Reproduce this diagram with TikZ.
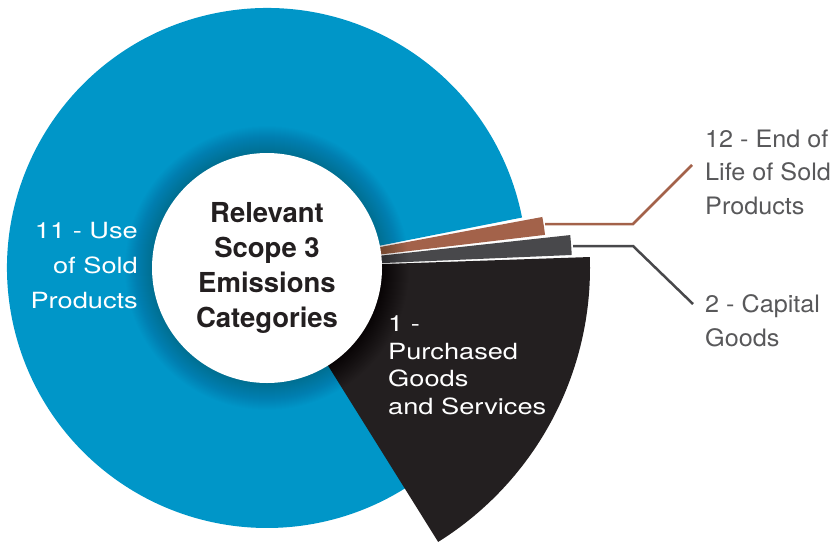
\documentclass[tikz,border=0pt]{standalone}
\usepackage{fontspec}
\setmainfont{TeX Gyre Heros}
\newfontfamily\widefont[FakeStretch=1.22]{TeX Gyre Heros}
\newfontfamily\labfont[FakeStretch=1.05]{TeX Gyre Heros}
\definecolor{sblue}{RGB}{0,150,200}
\definecolor{sbrown}{RGB}{163,98,74}
\definecolor{sgray}{RGB}{72,72,75}
\definecolor{sblack}{RGB}{35,31,32}
\definecolor{labgray}{RGB}{88,88,90}
\tikzset{
  lead/.style={line width=2.5pt},
  sidelabel/.style={inner sep=0pt, align=left, text=labgray,
    font=\labfont\fontsize{24}{33.5}\selectfont},
  inlabel/.style={inner sep=0pt, text=white,
    font=\widefont\fontsize{22.3}{27.7}\selectfont},
}
\begin{document}
\begin{tikzpicture}[x=1pt,y=1pt]
\useasboundingbox (0,0) rectangle (834,-541);
\coordinate (C) at (267,-268);
% sectors
\fill[sblue] (C) -- ([shift={(C)}]11.2:260) arc[start angle=11.2, end angle=302.3, radius=260] -- cycle;
\fill[sbrown] (C) -- ([shift={(C)}]6.8:280) arc[start angle=6.8, end angle=10.5, radius=280] -- cycle;
\fill[sgray] (C) -- ([shift={(C)}]2.45:305) arc[start angle=2.45, end angle=6.2, radius=305] -- cycle;
\fill[sblack] (C) -- ([shift={(C)}]-58:323) arc[start angle=-58, end angle=1.95, radius=323] -- cycle;
% soft shadow around hub
\foreach \r in {116,...,142} \fill[black,opacity=0.0065] (C) circle (\r);
% hub
\node[circle, fill=white, minimum size=230pt, inner sep=0pt, align=center,
  text=sblack, font=\bfseries\fontsize{27.5}{34.7}\selectfont] (hub) at (C)
  {Relevant\\Scope 3\\Emissions\\Categories};
% labels inside
\node[inlabel, align=right, anchor=north east,
  font=\widefont\fontsize{22.3}{35}\selectfont] (lab11) at (138,-222.3)
  {11 - Use\\of Sold\\Products};
\node[inlabel, align=left, anchor=north west] (lab1) at (388,-315.5)
  {1 -\\Purchased\\Goods\\and Services};
% side labels
\node[sidelabel, anchor=north west] (lab12) at (705,-129.5)
  {12 - End of\\Life of Sold\\Products};
\node[sidelabel, anchor=north west] (lab2) at (705,-294.5)
  {2 - Capital\\Goods};
% leaders
\coordinate (b1) at (545,-224);
\coordinate (b2) at (633,-224);
\coordinate (b3) at (692,-165);
\coordinate (g1) at (573,-246);
\coordinate (g2) at (633,-246);
\coordinate (g3) at (693,-304);
\draw[lead, sbrown] (b1) -- (b2) -- (b3);
\draw[lead, sgray] (g1) -- (g2) -- (g3);
\end{tikzpicture}
\end{document}
